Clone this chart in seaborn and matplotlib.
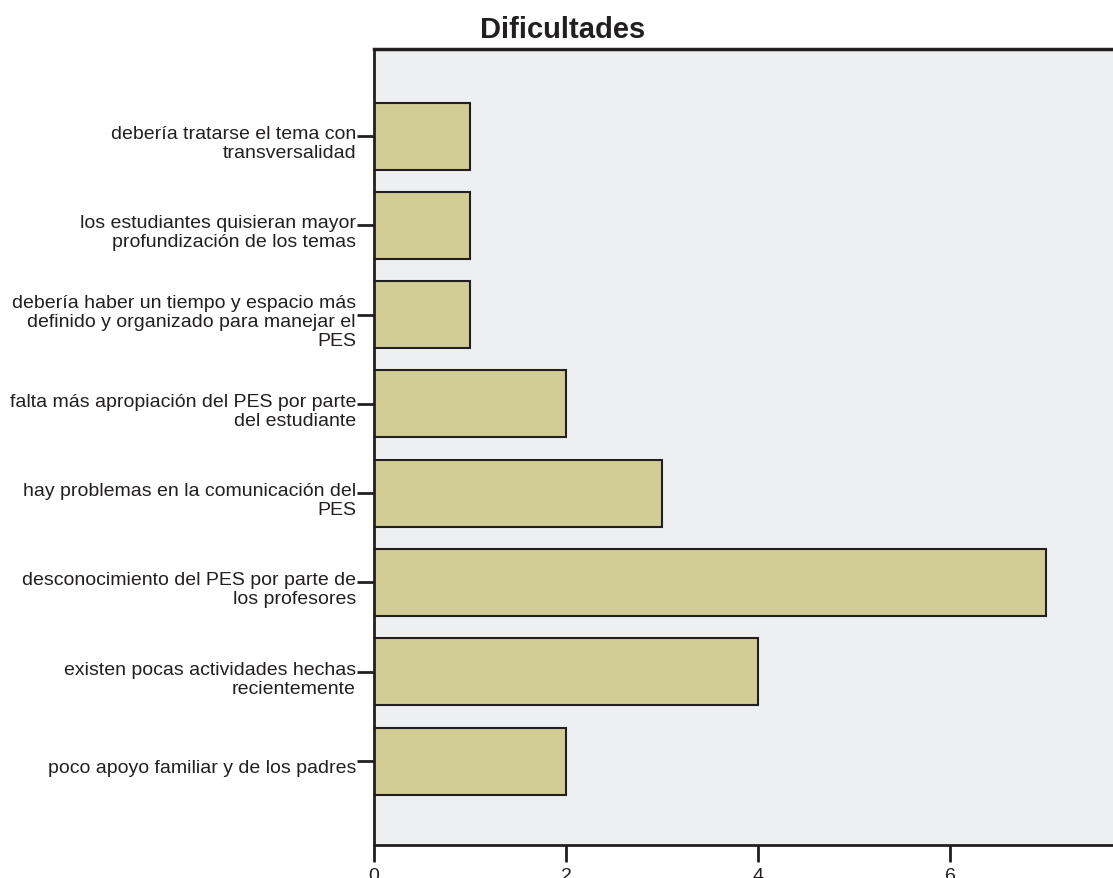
import matplotlib
matplotlib.use("Agg")
import matplotlib.pyplot as plt
import matplotlib.transforms as mtransforms
import seaborn as sns
import pandas as pd

# Data
categorias = [
    "debería tratarse el tema con\ntransversalidad",
    "los estudiantes quisieran mayor\nprofundización de los temas",
    "debería haber un tiempo y espacio más\ndefinido y organizado para manejar el\nPES",
    "falta más apropiación del PES por parte\ndel estudiante",
    "hay problemas en la comunicación del\nPES",
    "desconocimiento del PES por parte de\nlos profesores",
    "existen pocas actividades hechas\nrecientemente",
    "poco apoyo familiar y de los padres",
]
conteos = [1, 1, 1, 2, 3, 7, 4, 2]
ticks_x = [0, 2, 4, 6]

df = pd.DataFrame({"categoria": categorias, "conteo": conteos})

sns.set_style("white")
plt.rcParams["font.family"] = ["Liberation Sans", "DejaVu Sans"]

fig = plt.figure(figsize=(11.13, 8.79), dpi=100)
# axes run past the right edge of the figure like the cropped original
ax = fig.add_axes([374 / 1113, 1 - 846 / 879, 768 / 1113, 796 / 879])
ax.set_facecolor("#eeeff1")

sns.barplot(data=df, x="conteo", y="categoria", orient="h", color="#d2cd95",
            saturation=1, width=0.75, edgecolor="#231f20", linewidth=1.5, ax=ax)

ax.set_xlim(0, 8)
ax.set_ylim(7.94, -0.975)
ax.set_xticks(ticks_x)
ax.set_xlabel("")
ax.set_ylabel("")

for side in ["left", "bottom"]:
    ax.spines[side].set_color("#231f20")
    ax.spines[side].set_linewidth(2)
ax.spines["top"].set_color("#231f20")
ax.spines["top"].set_linewidth(2.5)
ax.spines["right"].set_visible(False)

ax.tick_params(axis="y", length=12, width=2, color="#231f20", pad=1,
               labelsize=14, labelcolor="#231f20")
ax.tick_params(axis="x", length=12, width=2, color="#231f20", pad=4,
               labelsize=14, labelcolor="#231f20")
ax.tick_params(axis="both", direction="out", left=True, bottom=True)

# labels sit a little below their tick in the original
shift = mtransforms.ScaledTranslation(0, -4 / 100, fig.dpi_scale_trans)
for lbl in ax.get_yticklabels():
    lbl.set_linespacing(1.14)
    lbl.set_transform(lbl.get_transform() + shift)

fig.text(563 / 1113, 1 - 30 / 879, "Dificultades", ha="center", va="center",
         fontsize=21, fontweight="bold", color="#231f20")

fig.savefig("out.png", dpi=100, facecolor="white")
